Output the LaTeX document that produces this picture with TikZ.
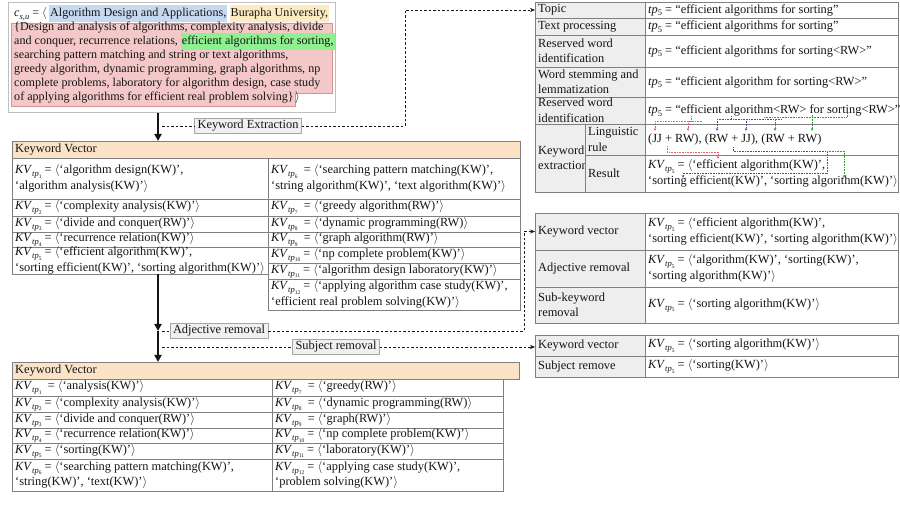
\documentclass[tikz,border=0pt]{standalone}
\usepackage{fontspec}
\setmainfont{Liberation Serif}
\usetikzlibrary{arrows.meta,backgrounds,calc}

\definecolor{hdrfill}{HTML}{FCE3C8}
\definecolor{hlblue}{HTML}{C6D9F0}
\definecolor{hlyellow}{HTML}{FCEBC0}
\definecolor{hlpink}{HTML}{F4C8C8}
\definecolor{pinkedge}{HTML}{D49494}
\definecolor{hlgreen}{HTML}{8EF08E}
\definecolor{gridline}{HTML}{808080}
\definecolor{keyfill}{HTML}{EEEEEE}
\definecolor{labelfill}{HTML}{F0F0F0}
\definecolor{ink}{HTML}{151515}
\definecolor{rulered}{HTML}{E06070}
\definecolor{ruleblue}{HTML}{4050B0}
\definecolor{rulegreen}{HTML}{30A030}

\newcommand\tabfont{\fontsize{12.4}{15.5}\selectfont}
\newcommand\srcfont{\fontsize{12.1}{14}\selectfont}
\newcommand\avopen{$\langle$}
\newcommand\avclose{$\rangle$}
\newcommand\kvtp[1]{\textit{KV}\raisebox{-3pt}{\fontsize{8.5}{8}\selectfont\textit{tp}\raisebox{-1.5pt}{\fontsize{5.5}{5}\selectfont #1}}}
\newcommand\tpfive{\textit{tp}\raisebox{-2.5pt}{\fontsize{8.5}{8}\selectfont 5}}

% one table cell: name, x1, y1, x2, y2, extra style, text
\newcommand\tabcell[7]{%
  \node[cellbox,#6,minimum width={#4-#2},minimum height={#5-#3},anchor=north west] (#1) at (#2,#3) {};
  \node[celltext,anchor=west] (#1t) at ([xshift=3pt]#1.west) {#7};}

\tikzset{
  cellbox/.style={draw=gridline, line width=0.6pt, inner sep=0pt, outer sep=0pt},
  keycell/.style={fill=keyfill},
  hdrcell/.style={fill=hdrfill},
  celltext/.style={font=\tabfont, align=left, inner sep=0pt, text=ink},
  srcline/.style={font=\srcfont, anchor=base west, inner sep=0pt, text=ink},
  hl/.style={inner xsep=1pt, inner ysep=2.5pt, text height=9pt, text depth=3pt},
  steplabel/.style={draw=gray!70, fill=labelfill, font=\tabfont, text=ink, inner xsep=3pt, inner ysep=2pt},
  thickarrow/.style={line width=1.8pt, ink, -{Triangle[length=7pt,width=7pt]}},
  dashlink/.style={line width=0.7pt, ink, dash pattern=on 2.5pt off 2pt},
  dashtip/.style={-{Stealth[length=5pt,width=4pt]}},
  rulelink/.style={line width=0.6pt, densely dotted},
  ruletip/.style={-{Stealth[length=3pt,width=2.5pt]}}
}

\begin{document}
\begin{tikzpicture}[x=1pt,y=-1pt]
\useasboundingbox (0,0) rectangle (900,510);

% ---------- course description ----------
\node[draw=gray!50, line width=0.6pt, minimum width=327, minimum height=110, anchor=north west, inner sep=0pt] (srcbox) at (8,2) {};
\node[srcline] (l1a) at (14,17) {\textit{c}\raisebox{-2.5pt}{\fontsize{8.5}{8}\selectfont\textit{s,u}} = \avopen};
\node[srcline,hl,fill=hlblue] (l1b) at ([xshift=2pt]l1a.base east) {Algorithm Design and Applications,};
\node[srcline,hl,fill=hlyellow] (l1c) at ([xshift=2pt]l1b.base east) {Burapha University,};
\node[srcline] (l2) at (14,31) {\{Design and analysis of algorithms, complexity analysis, divide};
\node[srcline] (l3a) at (14,45) {and conquer, recurrence relations,};
\node[srcline,hl,fill=hlgreen] (l3b) at ([xshift=2.5pt]l3a.base east) {efficient algorithms for sorting,};
\node[srcline] (l4) at (14,59) {searching pattern matching and string or text algorithms,};
\node[srcline] (l5) at (14,73) {greedy algorithm, dynamic programming, graph algorithms, np};
\node[srcline] (l6) at (14,87) {complete problems, laboratory for algorithm design, case study};
\node[srcline] (l7a) at (14,101) {of applying algorithms for efficient real problem solving\}};
\node[srcline] (l7b) at ([xshift=1pt]l7a.base east) {\avclose};

\begin{pgfonlayer}{background}
  \path (l7a.base east) ++(1.5,0) coordinate (pk);
  \coordinate (pkstep) at (0,93);
  \coordinate (pkbot) at (0,106);
  \filldraw[fill=hlpink, draw=pinkedge, line width=0.5pt]
    (11,23) -- (332,23) -- (332,93) -- (pk |- pkstep) -- (pk |- pkbot) -- (11,106) -- cycle;
\end{pgfonlayer}

% ---------- first keyword vector table ----------
\tabcell{h1}{12}{141}{520}{158}{hdrcell}{Keyword Vector}
\tabcell{a1}{12}{158}{268}{199}{}{\kvtp{1} = \avopen‘algorithm design(KW)’,\\‘algorithm analysis(KW)’\avclose}
\tabcell{a2}{12}{199}{268}{216}{}{\kvtp{2} = \avopen‘complexity analysis(KW)’\avclose}
\tabcell{a3}{12}{216}{268}{232}{}{\kvtp{3} = \avopen‘divide and conquer(RW)’\avclose}
\tabcell{a4}{12}{232}{268}{247}{}{\kvtp{4} = \avopen‘recurrence relation(KW)’\avclose}
\tabcell{a5}{12}{247}{268}{274}{}{\kvtp{5} = \avopen‘efficient algorithm(KW)’,\\‘sorting efficient(KW)’, ‘sorting algorithm(KW)’\avclose}
\tabcell{b1}{268}{158}{520}{199}{}{\kvtp{6} \ = \avopen‘searching pattern matching(KW)’,\\‘string algorithm(KW)’, ‘text algorithm(KW)’\avclose}
\tabcell{b2}{268}{199}{520}{216}{}{\kvtp{7} \ = \avopen‘greedy algorithm(RW)’\avclose}
\tabcell{b3}{268}{216}{520}{232}{}{\kvtp{8} \ = \avopen‘dynamic programming(RW)\avclose}
\tabcell{b4}{268}{232}{520}{247}{}{\kvtp{9} \ = \avopen‘graph algorithm(RW)’\avclose}
\tabcell{b5}{268}{247}{520}{263}{}{\kvtp{10} = \avopen‘np complete problem(KW)’\avclose}
\tabcell{b6}{268}{263}{520}{279}{}{\kvtp{11} = \avopen‘algorithm design laboratory(KW)’\avclose}
\tabcell{b7}{268}{279}{520}{310}{}{\kvtp{12} = \avopen‘applying algorithm case study(KW)’,\\‘efficient real problem solving(KW)’\avclose}

% ---------- reduced keyword vector table ----------
\tabcell{h2}{12}{362}{519}{379}{hdrcell}{Keyword Vector}
\tabcell{c1}{12}{379}{272}{396}{}{\kvtp{1} \ = \avopen‘analysis(KW)’\avclose}
\tabcell{c2}{12}{396}{272}{412}{}{\kvtp{2} = \avopen‘complexity analysis(KW)’\avclose}
\tabcell{c3}{12}{412}{272}{428}{}{\kvtp{3} = \avopen‘divide and conquer(RW)’\avclose}
\tabcell{c4}{12}{428}{272}{443}{}{\kvtp{4} = \avopen‘recurrence relation(KW)’\avclose}
\tabcell{c5}{12}{443}{272}{459}{}{\kvtp{5} = \avopen‘sorting(KW)’\avclose}
\tabcell{c6}{12}{459}{272}{491}{}{\kvtp{6} = \avopen‘searching pattern matching(KW)’,\\‘string(KW)’, ‘text(KW)’\avclose}
\tabcell{d1}{272}{379}{503}{396}{}{\kvtp{7} \ = \avopen‘greedy(RW)’\avclose}
\tabcell{d2}{272}{396}{503}{412}{}{\kvtp{8} \ = \avopen‘dynamic programming(RW)\avclose}
\tabcell{d3}{272}{412}{503}{428}{}{\kvtp{9} \ = \avopen‘graph(RW)’\avclose}
\tabcell{d4}{272}{428}{503}{443}{}{\kvtp{10} = \avopen‘np complete problem(KW)’\avclose}
\tabcell{d5}{272}{443}{503}{459}{}{\kvtp{11} = \avopen‘laboratory(KW)’\avclose}
\tabcell{d6}{272}{459}{503}{491}{}{\kvtp{12} = \avopen‘applying case study(KW)’,\\‘problem solving(KW)’\avclose}

% ---------- keyword extraction steps ----------
\tabcell{A1}{535}{2}{645}{18}{keycell}{Topic}
\tabcell{A2}{535}{18}{645}{35}{keycell}{Text processing}
\tabcell{A3}{535}{35}{645}{67}{keycell}{Reserved word\\identification}
\tabcell{A4}{535}{67}{645}{97}{keycell}{Word stemming and\\lemmatization}
\tabcell{A5}{535}{97}{645}{124}{keycell}{Reserved word\\identification}
\tabcell{A6}{535}{124}{585}{192}{keycell}{Keyword\\extraction}
\tabcell{A7}{585}{124}{645}{155}{keycell}{Linguistic\\rule}
\tabcell{A8}{585}{155}{645}{192}{keycell}{Result}
\tabcell{V1}{645}{2}{898}{18}{}{\tpfive{} = “efficient algorithms for sorting”}
\tabcell{V2}{645}{18}{898}{35}{}{\tpfive{} = “efficient algorithms for sorting”}
\tabcell{V3}{645}{35}{898}{67}{}{\tpfive{} = “efficient algorithms for sorting<RW>”}
\tabcell{V4}{645}{67}{898}{97}{}{\tpfive{} = “efficient algorithm for sorting<RW>”}
\tabcell{V5}{645}{97}{898}{124}{}{\tpfive{} = “efficient algorithm<RW> for sorting<RW>”}
\tabcell{V7}{645}{124}{898}{155}{}{(JJ + RW), (RW + JJ), (RW + RW)}
\tabcell{V8}{645}{155}{898}{192}{}{\kvtp{5} = \avopen‘efficient algorithm(KW)’,\\‘sorting efficient(KW)’, ‘sorting algorithm(KW)’\avclose}

% ---------- adjective and sub-keyword removal ----------
\tabcell{B1}{535}{213}{645}{250}{keycell}{Keyword vector}
\tabcell{B2}{535}{250}{645}{287}{keycell}{Adjective removal}
\tabcell{B3}{535}{287}{645}{323}{keycell}{Sub-keyword\\removal}
\tabcell{W1}{645}{213}{898}{250}{}{\kvtp{5} = \avopen‘efficient algorithm(KW)’,\\‘sorting efficient(KW)’, ‘sorting algorithm(KW)’\avclose}
\tabcell{W2}{645}{250}{898}{287}{}{\kvtp{5} = \avopen‘algorithm(KW)’, ‘sorting(KW)’,\\‘sorting algorithm(KW)’\avclose}
\tabcell{W3}{645}{287}{898}{323}{}{\kvtp{5} = \avopen‘sorting algorithm(KW)’\avclose}

% ---------- subject removal ----------
\tabcell{C1}{535}{335}{645}{356}{keycell}{Keyword vector}
\tabcell{C2}{535}{356}{645}{377}{keycell}{Subject remove}
\tabcell{X1}{645}{335}{898}{356}{}{\kvtp{5} = \avopen‘sorting algorithm(KW)’\avclose}
\tabcell{X2}{645}{356}{898}{377}{}{\kvtp{5} = \avopen‘sorting(KW)’\avclose}

% ---------- main flow ----------
\coordinate (spine) at (158,0);
\coordinate (mid) at (158,331);
\draw[thickarrow] (srcbox.south -| spine) -- (h1.north -| spine);
\draw[thickarrow] (a5.south -| spine) -- (mid);
\draw[thickarrow] (mid) -- (h2.north -| spine);

\node[steplabel] (ke) at (248,126) {Keyword Extraction};
\node[steplabel] (adj) at (219,331) {Adjective removal};
\node[steplabel] (subj) at (336,347) {Subject removal};

\coordinate (kej) at ($(ke.west -| spine)+(4,0)$);
\coordinate (adjj) at ($(adj.west -| spine)+(4,0)$);
\coordinate (subjj) at ($(subj.west -| spine)+(4,0)$);
\coordinate (bendA) at (405,0);
\coordinate (bendB) at (524,0);

\draw[dashlink] (kej) -- (ke.west);
\draw[dashlink,dashtip] (ke.east) -- (ke.east -| bendA) |- (A1.west);
\draw[dashlink] (adjj) -- (adj.west);
\draw[dashlink,dashtip] (adj.east) -- (adj.east -| bendB) |- (B1.west);
\draw[dashlink] (subjj) -- (subj.west);
\draw[dashlink,dashtip] (subj.east) -- (subj.east -| C1.west);

% ---------- linguistic rule marks ----------
\coordinate (r1) at (655,121); \coordinate (r2) at (688,121); \coordinate (r3) at (702,121);
\coordinate (rs) at (691,116);
\draw[rulelink,rulered] (rs) -- (rs |- r1) (r1) -- (r3);
\draw[rulelink,rulered,ruletip] (r1) -- ++(0,10);
\draw[rulelink,rulered,ruletip] (r2) -- ++(0,10);

\coordinate (u1) at (717,119); \coordinate (u2) at (746,119); \coordinate (u3) at (782,119);
\coordinate (us) at (731,116);
\draw[rulelink,ruleblue] (us) -- (us |- u1) (u1) -- (u3);
\draw[rulelink,ruleblue,ruletip] (u1) -- ++(0,12);
\draw[rulelink,ruleblue,ruletip] (u2) -- ++(0,12);

\coordinate (g1) at (764,117); \coordinate (g2) at (775,117); \coordinate (g3) at (812,117); \coordinate (g4) at (847,117);
\draw[rulelink,rulegreen] (g1) -- (g4) -- ++(0,-4);
\draw[rulelink,rulegreen] (g3) -- ++(0,-2);
\draw[rulelink,rulegreen,ruletip] (g2) -- ++(0,14);
\draw[rulelink,rulegreen,ruletip] (g3) -- ++(0,14);

\coordinate (p1) at (667,146); \coordinate (p2) at (718,152);
\draw[rulelink,rulered] (p1) |- (p2);
\draw[rulelink,rulered,ruletip] (p2) -- ++(0,7);

\coordinate (q1) at (733,147); \coordinate (q2) at (827,151); \coordinate (q3) at (683,173);
\draw[rulelink,ruleblue] (q1) |- (q2) |- (q3);
\draw[rulelink,ruleblue,ruletip] (q3) -- ++(0,5);

\coordinate (e1) at (827,151); \coordinate (e2) at (844,151);
\draw[rulelink,rulegreen] (e1) -- (e2);
\draw[rulelink,rulegreen,ruletip] (e2) -- ++(0,27);
\end{tikzpicture}
\end{document}
